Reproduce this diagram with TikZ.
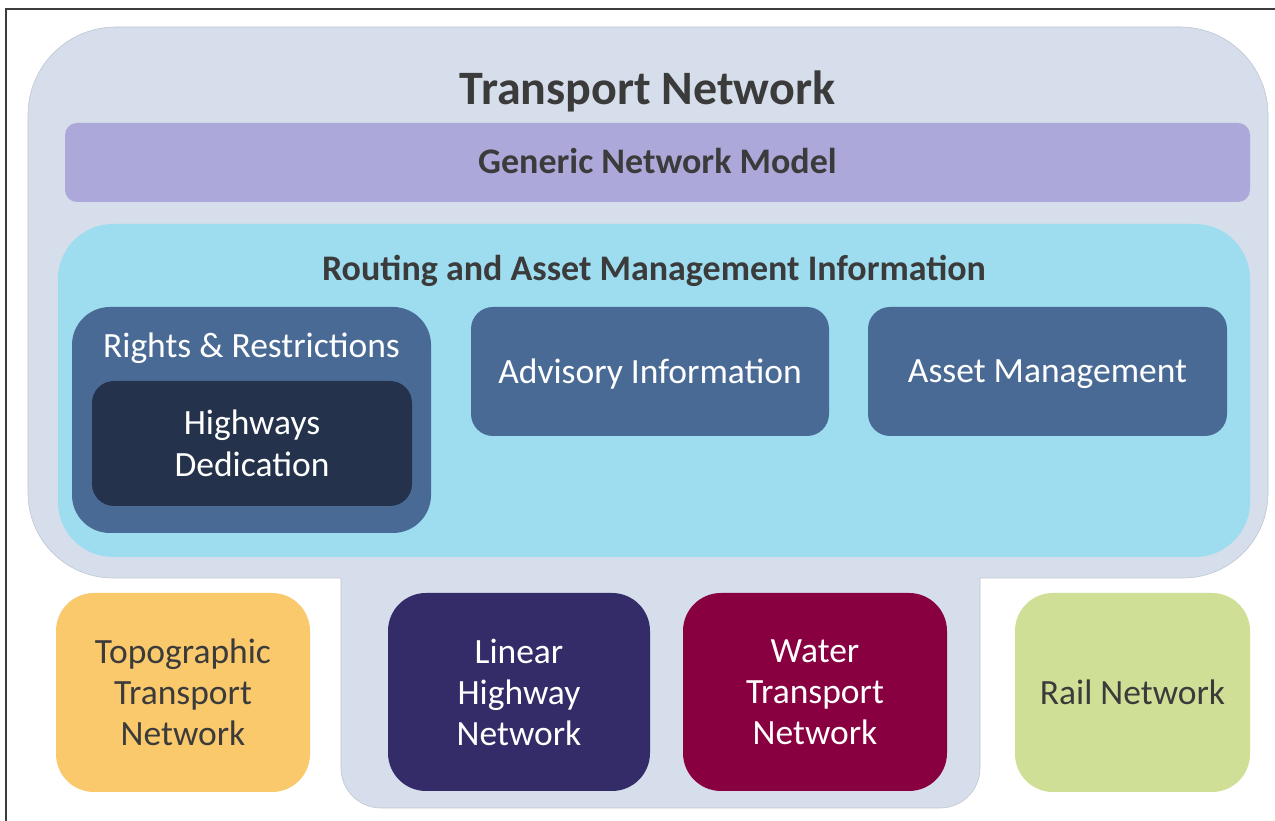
\documentclass[tikz,border=0pt]{standalone}
\usepackage{fontspec}
\setmainfont{Carlito}
\definecolor{outerbg}{HTML}{D5DEEA}
\definecolor{outeredge}{HTML}{BFC6D2}
\definecolor{genericc}{HTML}{ADA8DA}
\definecolor{routingc}{HTML}{9EDCF0}
\definecolor{midblue}{HTML}{4A6A96}
\definecolor{darkblue}{HTML}{24324B}
\definecolor{topoc}{HTML}{F9C96C}
\definecolor{linearc}{HTML}{332C68}
\definecolor{waterc}{HTML}{88003F}
\definecolor{railc}{HTML}{CFDF96}
\definecolor{txtdark}{HTML}{3B3B3B}
\definecolor{framec}{HTML}{3C3C3C}
\begin{document}
\begin{tikzpicture}[x=1pt,y=1pt,
  box/.style={rectangle, rounded corners=#1, inner sep=0pt, align=center, anchor=center},
  box/.default=22pt,
  bigtitle/.style={font=\fontsize{48}{54}\selectfont\bfseries, text=txtdark, anchor=base, inner sep=0pt},
  subtitle/.style={font=\fontsize{36}{42}\selectfont\bfseries, text=txtdark, anchor=base, inner sep=0pt},
  normaltxt/.style={font=\fontsize{35.5}{41}\selectfont},
]
\useasboundingbox (0,0) rectangle (1275,821);
\fill[white] (0,0) rectangle (1275,821);
% frame (left and top edges visible)
\draw[framec, line width=2pt] (6,-5) -- (6,812) -- (1280,812);
% outer transport network shape
\filldraw[fill=outerbg, draw=outeredge, line width=0.6pt]
  (116,794) -- (1180,794) arc[start angle=90, end angle=0, radius=88pt]
  -- (1268,328) arc[start angle=0, end angle=-90, radius=85pt]
  -- (980,243) -- (980,53) arc[start angle=0, end angle=-90, radius=40pt]
  -- (381,13) arc[start angle=270, end angle=180, radius=40pt]
  -- (341,243) -- (113,243) arc[start angle=270, end angle=180, radius=85pt]
  -- (28,706) arc[start angle=180, end angle=90, radius=88pt] -- cycle;
\node[bigtitle] (title) at (647.5,716) {Transport Network};
% generic network model band
\node[box=12pt, fill=genericc, minimum width=1185pt, minimum height=79pt] (generic) at (657.5,658.5) {};
\node[subtitle] (generictxt) at (657.5,647) {Generic Network Model};
% routing and asset management
\node[box=55pt, fill=routingc, minimum width=1192pt, minimum height=333pt] (routing) at (654,430.5) {};
\node[subtitle] (routingtxt) at (654,540) {Routing and Asset Management Information};
% rights & restrictions
\node[box=38pt, fill=midblue, minimum width=359pt, minimum height=226pt] (rights) at (251.5,401) {};
\node[normaltxt, text=white, anchor=base, inner sep=0pt] (rightstxt) at (251.5,463) {Rights \& Restrictions};
\node[box, font=\fontsize{35.5}{42}\selectfont, fill=darkblue, text=white, minimum width=320pt, minimum height=125pt] (highways) at (252,377.5) {Highways\\Dedication};
\node[box, fill=midblue, minimum width=358pt, minimum height=129pt] (advisory) at (650,449.5) {};
\node[normaltxt, text=white, inner sep=0pt] (advisorytxt) at ([yshift=-3pt]advisory.center) {Advisory Information};
\node[box, fill=midblue, minimum width=359pt, minimum height=129pt] (asset) at (1047.5,449.5) {};
\node[normaltxt, text=white, inner sep=0pt] (assettxt) at ([yshift=-3pt]asset.center) {Asset Management};
% bottom boxes
\node[box=38pt, normaltxt, fill=topoc, text=txtdark, minimum width=254pt, minimum height=199pt] (topo) at (183,128.5) {Topographic\\Transport\\Network};
\node[box=38pt, normaltxt, fill=linearc, text=white, minimum width=262pt, minimum height=198pt] (linear) at (519,129) {Linear\\Highway\\Network};
\node[box=38pt, normaltxt, fill=waterc, text=white, minimum width=264pt, minimum height=198pt] (water) at (815,129) {Water\\Transport\\Network};
\node[box=38pt, normaltxt, fill=railc, text=txtdark, minimum width=235pt, minimum height=199pt] (rail) at (1132.5,128.5) {Rail Network};
\end{tikzpicture}
\end{document}
